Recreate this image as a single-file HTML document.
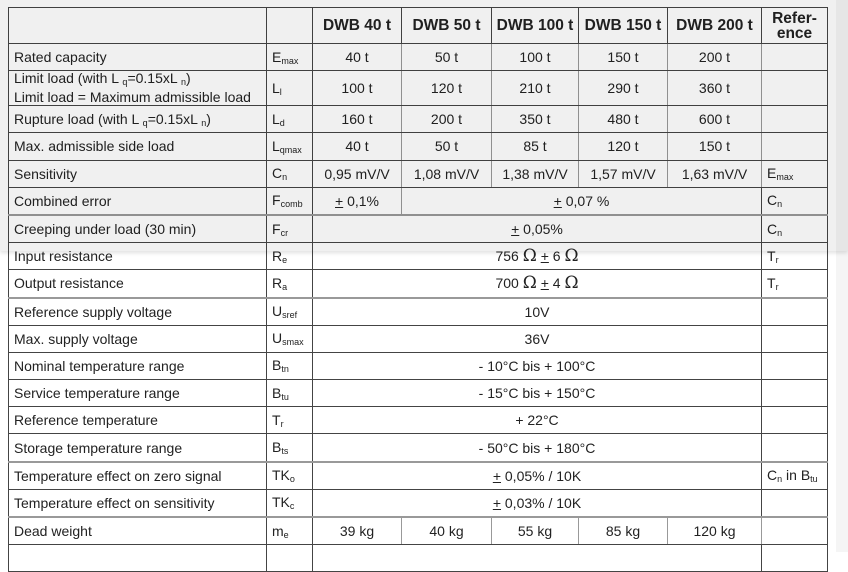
<!DOCTYPE html>
<html><head><meta charset="utf-8"><style>
html,body{margin:0;padding:0;background:#fff;width:848px;height:552px;overflow:hidden;font-family:"Liberation Sans",Arial,sans-serif;}
table{position:absolute;left:8px;top:7px;border-collapse:collapse;table-layout:fixed;width:820px;font-size:14px;color:#222;}
td{border:1px solid #444;padding:0 0 0 5px;height:26.2px;white-space:nowrap;overflow:hidden;}
td.c{text-align:center;padding:0;}
td.g{border-left-color:#999;border-right-color:#999;}
tr.th td{border-bottom:2px solid #999;}
th{border:1px solid #444;font-weight:bold;font-size:15.5px;height:35px;text-align:center;padding:0;}
sub{font-size:9px;vertical-align:-2px;}
.o{font-family:"DejaVu Serif",serif;font-size:17px;}
u{text-decoration:underline;}
#ov{position:absolute;left:0;top:0;width:848px;height:251px;background:rgba(0,0,0,0.06);box-shadow:0 2px 4px rgba(0,0,0,0.12);}
#rs{position:absolute;left:836px;top:0;width:12px;height:552px;background:rgba(0,0,0,0.04);}
</style></head><body>
<table>
<colgroup><col style="width:258px"><col style="width:46px"><col style="width:89px"><col style="width:90px"><col style="width:87px"><col style="width:89px"><col style="width:94px"><col style="width:66px"></colgroup>
<tr><th></th><th></th><th>DWB 40 t</th><th>DWB 50 t</th><th>DWB 100 t</th><th>DWB 150 t</th><th>DWB 200 t</th><th style="line-height:15px">Refer-<br>ence</th></tr>
<tr><td>Rated capacity</td><td>E<sub>max</sub></td><td class="c g">40 t</td><td class="c g">50 t</td><td class="c g">100 t</td><td class="c g">150 t</td><td class="c g">200 t</td><td></td></tr>
<tr><td style="height:33px;line-height:15px">Limit load (with L <sub>q</sub>=0.15xL <sub>n</sub>)<br>Limit load = Maximum admissible load</td><td>L<sub>l</sub></td><td class="c g">100 t</td><td class="c g">120 t</td><td class="c g">210 t</td><td class="c g">290 t</td><td class="c g">360 t</td><td></td></tr>
<tr><td>Rupture load (with L <sub>q</sub>=0.15xL <sub>n</sub>)</td><td>L<sub>d</sub></td><td class="c g">160 t</td><td class="c g">200 t</td><td class="c g">350 t</td><td class="c g">480 t</td><td class="c g">600 t</td><td></td></tr>
<tr><td>Max. admissible side load</td><td>L<sub>qmax</sub></td><td class="c g">40 t</td><td class="c g">50 t</td><td class="c g">85 t</td><td class="c g">120 t</td><td class="c g">150 t</td><td></td></tr>
<tr><td>Sensitivity</td><td>C<sub>n</sub></td><td class="c g">0,95 mV/V</td><td class="c g">1,08 mV/V</td><td class="c g">1,38 mV/V</td><td class="c g">1,57 mV/V</td><td class="c g">1,63 mV/V</td><td>E<sub>max</sub></td></tr>
<tr class="th"><td>Combined error</td><td>F<sub>comb</sub></td><td class="c g"><u>+</u> 0,1%</td><td class="c" colspan="4"><u>+</u> 0,07 %</td><td>C<sub>n</sub></td></tr>
<tr><td>Creeping under load (30 min)</td><td>F<sub>cr</sub></td><td class="c" colspan="5"><u>+</u> 0,05%</td><td>C<sub>n</sub></td></tr>
<tr><td>Input resistance</td><td>R<sub>e</sub></td><td class="c" colspan="5">756 <span class="o">Ω</span> <u>+</u> 6 <span class="o">Ω</span></td><td>T<sub>r</sub></td></tr>
<tr class="th"><td>Output resistance</td><td>R<sub>a</sub></td><td class="c" colspan="5">700 <span class="o">Ω</span> <u>+</u> 4 <span class="o">Ω</span></td><td>T<sub>r</sub></td></tr>
<tr><td>Reference supply voltage</td><td>U<sub>sref</sub></td><td class="c" colspan="5">10V</td><td></td></tr>
<tr><td>Max. supply voltage</td><td>U<sub>smax</sub></td><td class="c" colspan="5">36V</td><td></td></tr>
<tr><td>Nominal temperature range</td><td>B<sub>tn</sub></td><td class="c" colspan="5">- 10°C bis + 100°C</td><td></td></tr>
<tr><td>Service temperature range</td><td>B<sub>tu</sub></td><td class="c" colspan="5">- 15°C bis + 150°C</td><td></td></tr>
<tr><td>Reference temperature</td><td>T<sub>r</sub></td><td class="c" colspan="5">+ 22°C</td><td></td></tr>
<tr class="th"><td>Storage temperature range</td><td>B<sub>ts</sub></td><td class="c" colspan="5">- 50°C bis + 180°C</td><td></td></tr>
<tr><td>Temperature effect on zero signal</td><td>TK<sub>o</sub></td><td class="c" colspan="5"><u>+</u> 0,05% / 10K</td><td>C<sub>n</sub> in B<sub>tu</sub></td></tr>
<tr class="th"><td>Temperature effect on sensitivity</td><td>TK<sub>c</sub></td><td class="c" colspan="5"><u>+</u> 0,03% / 10K</td><td></td></tr>
<tr><td>Dead weight</td><td>m<sub>e</sub></td><td class="c g">39 kg</td><td class="c g">40 kg</td><td class="c g">55 kg</td><td class="c g">85 kg</td><td class="c g">120 kg</td><td></td></tr>
<tr><td></td><td></td><td class="c" colspan="5"></td><td></td></tr>
</table>
<div id="ov"></div><div id="rs"></div>
</body></html>
